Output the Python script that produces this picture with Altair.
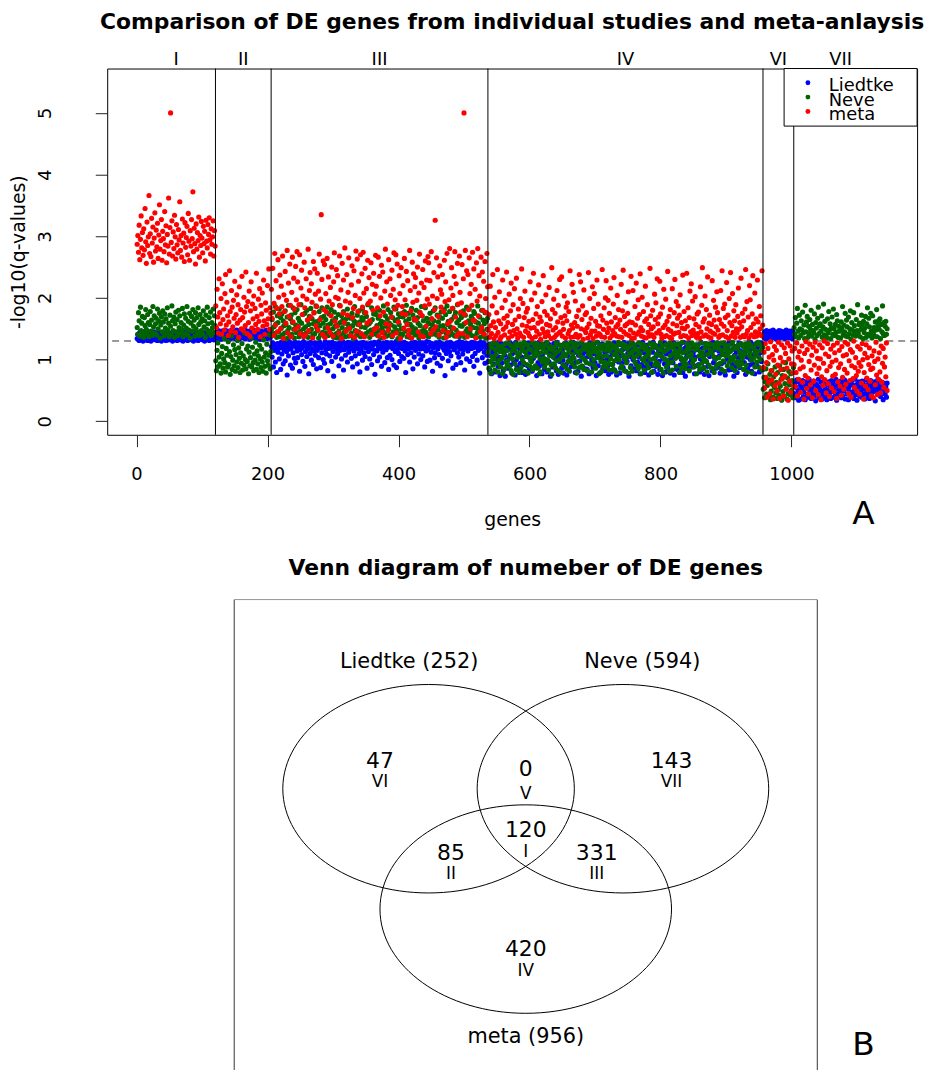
import math
import altair as alt
import pandas as pd

# ---------------- Venn diagram data ----------------
venn_regions = ["I", "II", "III", "IV", "V", "VI", "VII"]
venn_counts = [120, 85, 331, 420, 0, 47, 143]
venn_in_liedtke = [1, 1, 0, 0, 1, 1, 0]
venn_in_neve = [1, 0, 1, 0, 1, 0, 1]
venn_in_meta = [1, 1, 1, 1, 0, 0, 0]
venn_count_x = [0.0, -0.77, 0.73, 0.0, 0.0, -1.5, 1.5]
venn_count_y = [-0.02, -0.35, -0.35, -1.73, 0.86, 0.98, 0.98]
venn_roman_y = [-0.34, -0.65, -0.65, -2.04, 0.50, 0.67, 0.67]

study_names = ["Liedtke", "Neve", "meta"]
study_colors = ["#0000FF", "#006400", "#FF0000"]
circle_cx = [-1.0, 1.0, 0.0]
circle_cy = [0.577, 0.577, -1.155]
circle_r = 1.5
set_label_x = [-1.2, 1.2, 0.0]
set_label_y = [2.40, 2.40, -3.0]
venn_box = [-3.0, -3.5, 3.0, 3.3]

plot_regions = ["I", "II", "III", "IV", "VI", "VII"]
q_cutoff = 0.05
x_ticks = [0, 200, 400, 600, 800, 1000]
y_ticks = [0, 1, 2, 3, 4, 5]

# ---------------- -log10(q) values x 100, per region ----------------
liedtke_I = [
134,141,137,131,144,139,133,142,136,130,
145,138,132,140,135,143,131,137,144,134,
139,130,142,136,141,133,145,138,132,140,
135,131,143,137,134,141,139,130,144,136,
133,142,138,135,131,145,140,137,132,143,
134,139,136,141,130,144,138,133,142,135,
137,131,140,145,134,139,132,143,136,138,
130,141,135,144,133,137,142,131,139,134,
140,136,145,132,138,143,130,135,141,137,
134,144,139,131,142,136,133,140,138,145,
132,135,141,130,143,137,134,139,136,142,
131,144,138,133,140,135,137,132,141,139]
neve_I = [
152,141,176,163,138,185,147,159,170,144,
136,168,155,181,149,142,173,160,137,157,
178,146,164,139,186,153,171,143,158,167,
140,182,150,162,175,135,156,169,145,179,
161,138,174,151,166,143,184,148,159,137,
172,154,141,187,163,147,169,136,158,177,
145,165,139,180,152,171,143,160,149,183,
137,156,174,142,167,151,186,140,162,148,
175,135,159,170,146,181,154,164,138,176,
150,168,144,184,157,139,173,161,147,166,
141,179,153,163,136,172,149,185,158,143,
168,146,177,139,160,152,182,144,171,155]
meta_I = [
287,301,274,318,262,295,333,281,306,269,
312,278,345,291,256,323,285,299,366,272,
304,267,329,289,315,258,297,338,276,310,
283,321,264,302,351,279,293,327,261,308,
296,275,340,286,317,257,303,284,362,271,
314,500,290,325,268,307,280,334,299,263,
319,286,273,311,294,356,277,301,266,328,
289,305,259,322,282,298,316,270,337,292,
261,309,284,327,296,372,275,313,288,255,
320,279,306,293,331,266,301,285,324,297,
273,316,288,308,260,326,292,281,319,303,
330,294,271,312,287,299,325,268,309,284]

liedtke_II = [
139,145,134,141,147,136,143,138,133,146,
140,135,144,137,148,142,134,139,146,136,
143,133,141,147,138,144,135,140,145,137,
134,142,148,136,139,146,133,143,137,141,
145,138,135,144,140,134,147,139,142,136,
137,146,133,141,143,138,145,135,148,140,
142,136,144,134,139,147,137,141,133,146,
138,143,135,145,140,136,142,148,134,139,
144,137,141,135,143]
neve_II = [
98,82,115,127,89,104,141,93,78,110,
121,86,101,134,95,80,118,107,88,129,
92,113,76,105,138,84,99,124,90,116,
81,108,96,131,87,119,102,79,111,94,
126,83,106,91,143,100,85,117,97,122,
77,112,90,103,135,88,120,95,82,109,
99,128,84,114,93,106,79,123,101,87,
117,96,81,132,104,89,111,78,125,98,
91,107,140,85,113]
meta_II = [
187,152,214,169,143,231,176,158,199,141,
223,165,182,148,207,238,156,193,171,139,
161,244,178,146,212,185,153,196,167,227,
144,173,205,159,189,136,218,164,181,150,
235,168,147,201,177,155,242,186,142,194,
160,211,138,179,226,151,190,166,203,145,
183,157,240,170,149,198,162,215,137,188,
174,208,154,229,163,141,192,180,157,220,
166,247,149,184,175]

liedtke_III = [
121,104,127,88,115,124,96,118,79,126,
112,125,101,119,84,128,109,122,93,116,
127,98,120,113,75,124,106,129,117,91,
118,126,86,111,123,102,128,95,120,114,
103,122,127,81,116,125,108,119,97,129,
124,89,113,121,105,126,118,77,123,110,
128,99,117,125,92,114,127,107,121,85,
115,126,103,120,128,87,119,111,124,100,
122,94,129,116,109,125,82,118,127,106,
119,123,97,128,113,73,121,126,104,117,
125,110,120,90,127,115,124,101,118,129,
83,116,126,107,122,119,96,128,112,124,
117,127,102,121,88,125,114,120,106,129,
123,93,118,126,110,80,127,116,122,99,
128,111,124,105,119,126,86,121,113,125,
101,120,127,92,117,123,108,128,76,115,
126,114,98,122,129,104,118,124,89,121,
112,127,119,95,125,116,128,103,120,84,
124,107,121,127,100,118,126,91,123,113,
129,87,116,122,110,125,97,119,127,105,
118,124,102,128,114,79,121,126,108,117,
123,96,125,111,127,119,85,122,104,128,
115,126,120,93,124,109,128,117,100,121,
127,106,118,125,88,122,114,129,97,116,
120,128,99,123,112,126,81,119,125,103,
111,121,127,94,117,124,108,128,90,122,
126,102,119,125,115,74,123,110,127,118,
98,124,113,128,106,121,126,86,120,116,
125,119,92,127,111,123,104,129,117,95,
122,128,109,116,125,83,120,127,101,124,
114,121,126,97,123,118,128,105,119,89,
127,110,124,120,99,126,115,122,78,128,
118,125,103,121,127,112,94,124,119,107,
123]
neve_III = [
148,165,139,177,153,142,186,158,136,171,
160,145,182,137,168,151,174,140,163,155,
143,179,157,134,169,147,188,152,138,166,
172,141,160,184,149,135,176,156,144,181,
154,167,137,162,146,189,159,141,173,150,
139,175,153,143,180,164,136,157,170,145,
183,149,166,138,158,176,142,161,187,152,
147,162,135,178,155,140,168,184,144,159,
170,137,151,165,143,185,156,139,174,148,
158,181,141,163,150,136,177,154,167,142,
135,156,173,146,188,160,140,171,152,164,
178,144,159,137,166,149,182,157,138,169,
151,167,143,175,155,134,163,186,147,160,
140,172,157,145,179,161,137,153,168,183,
164,138,176,152,142,170,156,189,145,158,
136,161,148,184,165,141,174,150,177,143,
173,155,139,167,147,180,158,135,162,152,
146,187,160,143,171,154,138,166,181,149,
159,140,176,156,137,168,145,185,153,163,
182,148,165,134,174,157,142,170,150,139,
141,169,151,178,146,162,188,137,158,175,
166,136,157,144,183,153,172,147,164,140,
150,180,142,168,159,135,177,155,145,186,
171,147,163,139,152,184,144,167,138,160,
137,158,175,149,166,141,156,179,163,143,
184,152,140,172,148,161,136,169,154,177,
145,167,155,135,181,149,173,142,187,157,
162,139,178,153,144,165,151,183,140,170,
138,176,148,160,189,143,164,137,155,174,
168,154,141,179,158,136,172,146,185,150,
142,163,182,145,157,170,139,166,152,178,
175,138,161,151,143,187,159,147,169,136,
153,180,146,164,140,158,176,135,162,149,
167]
meta_III = [
214,167,248,139,191,272,156,228,183,145,
262,201,174,237,150,219,186,268,134,205,
178,243,159,196,277,143,224,170,255,188,
137,209,266,161,232,182,149,251,197,275,
226,153,189,270,142,216,245,173,203,137,
258,184,140,231,198,164,279,147,212,241,
169,223,193,135,259,176,247,206,155,186,
240,148,211,271,165,198,335,230,141,260,
181,254,136,207,177,264,152,234,195,144,
217,171,250,189,138,226,273,162,201,246,
154,236,199,143,268,187,213,134,256,175,
229,160,281,195,146,238,172,209,265,151,
192,139,221,252,168,183,244,136,204,276,
146,263,178,227,157,199,270,142,239,185,
274,208,137,248,176,215,159,261,191,233,
163,195,257,141,222,180,240,149,206,269,
219,152,184,266,138,235,171,200,253,144,
242,177,136,211,279,158,226,190,147,262,
156,231,204,169,245,139,214,273,182,197,
270,143,255,188,161,236,207,134,249,175,
186,220,150,264,197,173,243,157,228,140,
148,277,212,179,135,258,193,239,166,218,
233,164,196,250,145,208,271,176,138,224,
171,246,137,217,187,260,154,229,198,267,
257,190,228,142,275,166,203,148,241,181,
326,153,265,199,234,170,140,252,213,185,
206,238,147,178,261,194,226,136,272,158,
144,197,280,162,216,249,183,204,151,235,
275,169,223,138,256,190,143,268,209,177,
192,254,142,231,500,173,277,160,244,137,
238,181,265,207,150,222,188,274,164,247,
163,214,135,257,195,280,171,236,203,145,
266,152,242,180,227,141,259,199,176,272,
218]

liedtke_IV = [
97,118,84,125,106,77,121,112,93,127,
109,80,123,101,116,89,128,104,74,119,
126,95,113,82,120,107,73,124,99,115,
86,122,103,127,91,117,78,110,125,96,
114,75,128,100,88,121,108,83,118,94,
124,104,79,116,126,92,113,76,105,120,
90,127,111,85,119,98,123,81,115,102,
117,87,106,126,74,112,95,128,89,122,
103,121,77,109,93,124,84,118,100,127,
80,114,125,96,107,73,120,111,88,116,
126,91,102,119,82,128,105,76,113,97,
110,123,86,115,99,78,122,108,127,92,
75,106,118,83,124,101,114,89,120,104,
128,94,112,79,117,96,125,81,107,121,
98,119,73,126,88,110,102,123,85,113,
116,84,105,122,77,127,93,115,100,109,
87,124,111,95,118,74,106,128,90,120,
107,79,121,101,125,86,117,97,112,82,
123,99,89,114,76,126,104,119,80,111,
92,118,127,83,108,120,75,102,125,96,
113,78,106,124,94,116,87,128,101,121,
81,122,97,110,126,73,119,105,90,115,
127,100,116,85,121,109,82,124,96,108,
104,125,77,118,92,113,128,88,111,79,
119,86,123,99,106,75,117,126,94,114,
90,112,128,81,120,103,89,107,122,76,
115,97,84,125,110,118,74,101,127,93,
126,80,109,116,87,123,98,113,78,120,
102,121,95,127,75,108,124,85,117,105,
83,114,119,91,126,100,112,79,128,96,
118,73,103,122,109,86,127,94,115,107,
98,125,88,111,120,77,104,123,90,116,
124,92,117,80,101,128,84,110,119,87,
76,108,126,97,113,89,121,74,105,125,
111,120,82,128,95,116,100,123,86,103,
127,88,114,106,78,119,93,125,110,81,
96,122,75,109,124,101,118,83,128,99,
115,84,126,92,117,73,107,121,89,112,
79,119,103,127,87,114,125,98,106,122,
123,95,110,76,121,104,85,116,128,91,
100,128,81,118,93,124,108,77,113,126,
117,89,122,105,80,111,127,97,119,84]
neve_IV = [
112,86,124,97,78,119,105,91,127,101,
83,116,108,125,94,80,121,99,113,88,
122,103,77,118,110,85,126,96,115,90,
98,127,89,107,123,82,114,101,76,120,
117,93,126,84,111,104,122,79,109,125,
87,115,100,121,95,128,81,113,106,92,
124,78,118,103,89,116,97,127,84,110,
105,122,90,114,126,86,108,119,77,101,
80,111,125,96,118,102,88,123,112,94,
128,99,83,117,107,121,91,76,115,104,
93,120,109,86,127,98,113,82,124,100,
116,79,104,122,92,110,126,89,106,119,
85,125,97,112,81,118,101,128,94,108,
121,102,88,126,115,78,123,96,111,87,
107,114,127,90,103,120,84,117,99,124,
95,82,116,109,125,93,106,121,80,113,
126,100,91,119,86,112,128,103,118,77,
110,123,97,81,117,105,89,124,96,115,
88,106,120,127,94,83,114,101,125,92,
119,84,108,98,122,111,79,116,104,128,
99,125,86,113,90,126,107,120,82,102,
123,95,117,105,78,109,121,87,128,111,
81,114,103,124,96,118,92,106,115,85,
127,89,110,77,120,101,125,98,83,116,
104,121,93,115,108,87,112,126,100,79,
118,80,126,102,91,123,96,109,119,94,
90,107,116,128,84,105,122,78,113,101,
114,124,88,99,117,93,81,127,106,120,
96,83,121,110,125,115,102,89,124,108,
125,112,79,118,103,86,128,97,111,91,
85,101,114,92,126,120,107,82,117,104,
109,127,95,123,88,100,116,124,77,119,
122,91,106,84,113,127,94,110,103,86,
100,118,126,97,80,108,121,91,125,112,
115,86,111,124,105,79,119,101,88,127,
92,123,103,117,94,126,84,114,108,98,
127,81,120,106,116,90,110,123,96,113,
103,115,87,128,99,121,105,82,118,94,
118,97,124,89,112,107,126,93,101,122,
84,108,116,125,91,114,80,120,127,106,
111,123,99,78,119,102,117,88,109,125,
96,113,128,104,87,124,100,115,83,120]
meta_IV = [
148,173,136,219,155,142,187,238,161,134,
201,152,139,176,246,144,163,210,133,158,
137,184,229,149,167,140,196,153,242,171,
160,135,206,145,179,224,138,157,189,147,
215,164,141,232,150,135,182,170,143,199,
139,247,156,191,136,168,211,146,177,154,
183,143,162,138,226,151,197,134,165,240,
152,208,137,174,146,186,159,221,141,169,
133,162,194,150,236,144,178,137,205,157,
172,145,139,217,155,166,134,249,181,148,
198,136,175,152,140,212,161,188,143,230,
145,168,234,138,159,149,203,171,135,185,
163,192,142,178,147,244,136,156,222,151,
209,137,160,195,141,170,154,136,180,238,
139,226,150,165,187,133,213,148,173,144,
176,152,135,241,158,199,140,167,146,218,
134,183,207,146,162,138,229,155,190,142,
154,140,171,137,246,164,149,184,136,200,
228,159,144,196,151,175,135,216,161,139,
147,190,233,142,168,153,138,204,157,181,
137,164,149,222,136,179,245,145,170,155,
193,141,158,175,210,139,161,148,235,134,
160,212,143,135,186,156,224,141,167,197,
145,173,239,152,138,201,147,178,136,162,
219,135,166,189,144,157,138,248,171,150,
140,180,153,136,206,165,192,143,231,158,
169,147,227,174,141,135,185,152,214,137,
156,198,139,162,243,149,170,136,181,146,
134,215,158,141,176,230,143,194,155,167,
187,144,172,205,137,160,151,237,139,178,
150,163,138,240,154,184,135,168,211,145,
223,139,195,148,166,142,202,157,136,174,
142,177,153,135,218,145,188,249,161,138,
166,203,140,181,150,234,137,159,172,146,
135,157,228,143,196,164,141,185,153,210,
176,148,136,165,139,212,158,244,140,183,
154,190,168,137,225,147,172,134,199,160,
241,138,155,207,144,179,163,136,189,150,
143,170,216,149,160,136,232,153,175,139,
163,137,182,246,141,194,147,169,135,220,
197,152,140,174,236,158,137,208,145,166,
138,229,161,143,186,150,171,139,244,156]

liedtke_VI = [
141,136,145,139,133,147,142,137,144,135,
140,146,134,143,138,148,136,141,145,139,
133,144,137,142,147,135,140,146,138,143,
136,145,139,134,141,148,137,144,142,135,
146,138,143,140,134,147,139]
neve_VI = [
52,71,38,64,85,44,58,93,41,67,
76,35,49,82,60,39,72,55,88,46,
63,37,79,51,42,90,57,68,34,74,
48,84,40,61,95,53,36,70,45,81,
59,43,77,50,66,38,87]
meta_VI = [
87,112,54,126,71,95,39,118,63,104,
45,129,82,67,108,36,99,121,58,76,
115,49,91,128,62,37,103,84,124,69,
96,41,119,73,110,52,86,127,34,101,
65,122,47,93,114,79,57]

liedtke_VII = [
45,61,38,55,67,42,50,34,63,47,
58,36,52,66,40,48,60,35,54,64,
43,57,39,68,49,62,37,53,45,59,
65,41,51,33,60,46,56,68,38,50,
55,63,44,36,58,49,67,40,52,61,
35,47,59,64,42,53,37,66,48,56,
62,39,50,45,68,34,57,43,61,51,
46,65,38,54,41,60,49,67,36,58,
53,44,63,35,56,48,62,40,66,47,
59,37,52,68,43,55,34,61,50,64,
41,57,46,39,65,52,60,44,36,54,
67,48,58,42,62,37,51,66,45,56,
38,60,49,64,33,55,47,59,68,43,
52,65,40,57,46,63,35,50,61,44,
56,39,62]
neve_VII = [
152,141,168,137,159,183,146,135,172,150,
139,163,148,177,143,156,134,188,145,161,
170,136,154,142,165,149,180,138,157,147,
144,174,133,160,151,139,167,185,142,155,
158,146,171,136,153,190,140,162,149,137,
135,166,143,178,148,158,134,152,169,141,
182,150,139,157,144,173,163,136,154,146,
147,135,161,151,186,140,156,145,175,138,
164,153,137,169,142,150,179,133,160,148,
140,176,155,145,138,165,147,189,143,157,
159,137,149,172,156,134,162,144,151,170,
136,158,184,141,167,153,139,175,146,135,
171,143,152,138,161,148,181,137,155,163,
149,166,134,157,145,187,142,160,139,154,
162,141,150]
meta_VII = [
92,118,56,79,127,41,104,68,113,85,
47,99,122,63,88,36,110,74,129,53,
116,70,44,97,125,59,83,107,38,120,
65,91,128,50,114,77,102,43,86,124,
101,35,72,119,58,94,130,67,109,46,
82,126,61,105,40,89,117,54,96,73,
123,48,111,76,99,37,127,64,87,115,
57,93,42,121,71,106,52,84,128,60,
108,78,125,45,98,66,116,39,90,112,
69,130,55,87,103,74,49,121,81,95,
44,117,89,62,126,100,36,79,110,57,
124,70,103,51,92,119,65,84,41,106,
86,38,114,97,59,128,75,43,101,68,
111,80,46,122,63,94,118,55,88,104,
72,127,50]

study_values = {
    "Liedtke": {"I": liedtke_I, "II": liedtke_II, "III": liedtke_III, "IV": liedtke_IV,
                "VI": liedtke_VI, "VII": liedtke_VII},
    "Neve": {"I": neve_I, "II": neve_II, "III": neve_III, "IV": neve_IV,
             "VI": neve_VI, "VII": neve_VII},
    "meta": {"I": meta_I, "II": meta_II, "III": meta_III, "IV": meta_IV,
             "VI": meta_VI, "VII": meta_VII},
}

# ---------------- build tables ----------------
region_sizes = [venn_counts[venn_regions.index(r)] for r in plot_regions]

rows = []
for study in study_names:
    start = 0
    for reg, n in zip(plot_regions, region_sizes):
        for i, v in enumerate(study_values[study][reg][:n]):
            rows.append({"gene": start + i + 1, "value": v / 100.0, "study": study})
        start += n
points_df = pd.DataFrame(rows)

cum = []
s = 0
for n in region_sizes:
    cum.append(s)
    s += n
bound_df = pd.DataFrame({"x": [c + n + 0.5 for c, n in zip(cum[:-1], region_sizes[:-1])]})
reglab_df = pd.DataFrame({"region": plot_regions,
                          "mid": [c + n / 2 + 0.5 for c, n in zip(cum, region_sizes)]})
thr_df = pd.DataFrame({"y": [-math.log10(q_cutoff)]})
one = pd.DataFrame({"k": [0]})

FONT = "DejaVu Sans"
W, H = 816, 369
n_total = sum(region_sizes)
pad_x = 0.04 * (n_total - 1)
xs = alt.Scale(domain=[1 - pad_x, n_total + pad_x], nice=False, zero=False)
ys = alt.Scale(domain=[-0.22, 5.72], nice=False, zero=False)
cscale = alt.Scale(domain=study_names, range=study_colors)

dash = alt.Chart(thr_df).mark_rule(color="#333333", strokeWidth=1, strokeDash=[7, 5]).encode(
    y=alt.Y("y:Q", scale=ys))

pts = alt.Chart(points_df).mark_circle(size=27, opacity=1).encode(
    x=alt.X("gene:Q", scale=xs,
            axis=alt.Axis(values=x_ticks, format="d", title="genes", grid=False, domain=False,
                          tickSize=12, tickColor="#222222", labelFontSize=18, labelColor="black",
                          labelPadding=19, labelFlush=False, titleFontSize=19,
                          titleFontWeight="normal", titleColor="black", titleY=91,
                          titleBaseline="alphabetic")),
    y=alt.Y("value:Q", scale=ys,
            axis=alt.Axis(values=y_ticks, format="d", title="-log10(q-values)", grid=False,
                          domain=False, tickSize=12, tickColor="#222222", labelFontSize=18,
                          labelColor="black", labelAngle=270, labelAlign="center",
                          labelBaseline="middle", labelPadding=50, labelFlush=False,
                          titleFontSize=19, titleFontWeight="normal", titleColor="black",
                          titleAngle=270, titleBaseline="middle", titleX=-89)),
    color=alt.Color("study:N", scale=cscale, legend=None),
)

bounds = alt.Chart(bound_df).mark_rule(color="black", strokeWidth=1).encode(
    x=alt.X("x:Q", scale=xs))

reglabels = alt.Chart(reglab_df).mark_text(fontSize=18, baseline="alphabetic", color="black").encode(
    x=alt.X("mid:Q", scale=xs), y=alt.value(-3.5), text="region:N")

leg_box = alt.Chart(one).mark_rect(fill="white", stroke="black", strokeWidth=1).encode(
    x=alt.value(682), x2=alt.value(816), y=alt.value(0), y2=alt.value(58))
leg_layers = [leg_box]
for i, (name, col) in enumerate(zip(study_names, study_colors)):
    leg_layers.append(alt.Chart(one).mark_circle(size=24, opacity=1, color=col).encode(
        x=alt.value(706), y=alt.value(14.3 + 14.5 * i)))
    leg_layers.append(alt.Chart(one).mark_text(align="left", baseline="alphabetic", fontSize=18,
                                               color="black").encode(
        x=alt.value(727), y=alt.value(23 + 14.3 * i), text=alt.value(name)))

title_top = alt.Chart(one).mark_text(fontSize=22, fontWeight="bold", baseline="alphabetic",
                                     color="black").encode(
    x=alt.value(W / 2), y=alt.value(-40),
    text=alt.value("Comparison of DE genes from individual studies and meta-anlaysis"))
label_a = alt.Chart(one).mark_text(fontSize=33, baseline="alphabetic", color="black").encode(
    x=alt.value(762), y=alt.value(459), text=alt.value("A"))

top = alt.layer(dash, pts, bounds, *leg_layers, reglabels, title_top, label_a).properties(
    width=W, height=H)

# ---------------- Venn panel ----------------
VW, VH = 816, 474
vx_dom = [-4.307, 4.027]
vy_dom = [-3.471, 3.3]
vxs = alt.Scale(domain=vx_dom, nice=False, zero=False)
vys = alt.Scale(domain=vy_dom, nice=False, zero=False)
px_x = VW / (vx_dom[1] - vx_dom[0])
px_y = VH / (vy_dom[1] - vy_dom[0])
ry = px_y / px_x
kx, ky = 0.5523, 0.5523 * ry
ellipse = (f"M -1 0 C -1 {-ky:.4f} {-kx:.4f} {-ry:.4f} 0 {-ry:.4f} "
           f"C {kx:.4f} {-ry:.4f} 1 {-ky:.4f} 1 0 "
           f"C 1 {ky:.4f} {kx:.4f} {ry:.4f} 0 {ry:.4f} "
           f"C {-kx:.4f} {ry:.4f} -1 {ky:.4f} -1 0 Z")
circle_size = (2 * circle_r * px_x) ** 2

box_df = pd.DataFrame({"x": [venn_box[0]], "x2": [venn_box[2]], "y": [venn_box[1]], "y2": [venn_box[3]]})
vbox = alt.Chart(box_df).mark_rect(fill="transparent", stroke="#333333", strokeWidth=1, clip=True).encode(
    x=alt.X("x:Q", scale=vxs, axis=None), x2="x2:Q",
    y=alt.Y("y:Q", scale=vys, axis=None), y2="y2:Q")

circ_df = pd.DataFrame({"cx": circle_cx, "cy": circle_cy, "set": study_names})
vcirc = alt.Chart(circ_df).mark_point(shape=ellipse, size=circle_size, filled=False, color="black",
                                      strokeWidth=1, opacity=1).encode(
    x=alt.X("cx:Q", scale=vxs, axis=None), y=alt.Y("cy:Q", scale=vys, axis=None))

members = [venn_in_liedtke, venn_in_neve, venn_in_meta]
totals = [sum(c for c, m in zip(venn_counts, mem) if m) for mem in members]
setlab_df = pd.DataFrame({"x": set_label_x, "y": set_label_y,
                          "label": [f"{n} ({t})" for n, t in zip(study_names, totals)]})
vsetlab = alt.Chart(setlab_df).mark_text(fontSize=21, baseline="middle", color="black").encode(
    x=alt.X("x:Q", scale=vxs, axis=None), y=alt.Y("y:Q", scale=vys, axis=None), text="label:N")

cnt_df = pd.DataFrame({"x": venn_count_x, "y": venn_count_y, "yr": venn_roman_y,
                       "count": [str(c) for c in venn_counts], "region": venn_regions})
vcount = alt.Chart(cnt_df).mark_text(fontSize=22, baseline="middle", color="black").encode(
    x=alt.X("x:Q", scale=vxs, axis=None), y=alt.Y("y:Q", scale=vys, axis=None), text="count:N")
vroman = alt.Chart(cnt_df).mark_text(fontSize=17, baseline="middle", color="black").encode(
    x=alt.X("x:Q", scale=vxs, axis=None), y=alt.Y("yr:Q", scale=vys, axis=None), text="region:N")

vtitle = alt.Chart(pd.DataFrame({"x": [0.0]})).mark_text(
    fontSize=22, fontWeight="bold", baseline="alphabetic", color="black").encode(
    x=alt.X("x:Q", scale=vxs, axis=None), y=alt.value(-25),
    text=alt.value("Venn diagram of numeber of DE genes"))
label_b = alt.Chart(one).mark_text(fontSize=33, baseline="alphabetic", color="black").encode(
    x=alt.value(762), y=alt.value(459), text=alt.value("B"))

bottom = alt.layer(vbox, vcirc, vsetlab, vcount, vroman, vtitle, label_b).properties(
    width=VW, height=VH, view=alt.ViewBackground(stroke="transparent"))

chart = alt.vconcat(top, bottom, spacing=24).properties(
    padding={"left": 9, "top": 6, "right": 5, "bottom": 0}
).configure(font=FONT).configure_view(stroke="black", strokeWidth=1)

chart.save("out.html", embed_options={"renderer": "svg", "actions": False})
